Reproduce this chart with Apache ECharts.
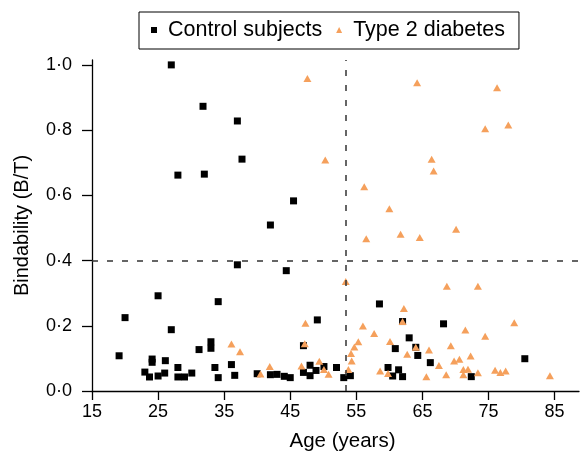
<!DOCTYPE html>
<html><head><meta charset="utf-8">
<script src="https://cdn.jsdelivr.net/npm/echarts@6/dist/echarts.min.js"></script>
<style>html,body{margin:0;padding:0;background:#fff}#c{width:580px;height:458px}</style>
</head><body><div id="c"></div>
<script>
const seriesNames = ['Control subjects', 'Type 2 diabetes'];
const controlAge = [27.0,31.8,37.0,37.7,28.0,32.0,42.0,45.5,37.0,44.4,34.1,25.0,20.0,27.0,19.1,49.1,58.5,62.0,63.0,60.9,47.0,64.0,64.3,48.0,50.1,52.0,48.9,47.0,48.0,40.0,42.0,43.0,44.1,45.0,53.1,54.1,59.8,61.4,60.5,62.0,68.2,66.2,80.5,72.4,24.1,24.1,26.1,23.0,23.7,25.0,26.0,28.0,28.0,29.0,30.1,31.2,33.0,33.0,33.6,36.1,34.1,36.6];
const controlBind = [1.000,0.873,0.828,0.711,0.662,0.665,0.509,0.583,0.387,0.369,0.274,0.292,0.225,0.188,0.108,0.218,0.267,0.213,0.163,0.130,0.139,0.134,0.109,0.079,0.075,0.072,0.063,0.057,0.047,0.053,0.050,0.051,0.045,0.041,0.041,0.047,0.072,0.065,0.046,0.044,0.206,0.087,0.099,0.044,0.098,0.088,0.093,0.058,0.043,0.046,0.055,0.072,0.043,0.043,0.055,0.127,0.151,0.131,0.072,0.081,0.041,0.048];
const diabetesAge = [47.6,64.2,50.3,56.2,60.0,76.3,74.5,78.0,66.4,66.7,56.5,61.7,64.6,70.1,53.4,62.2,62.0,47.3,56.0,57.7,60.1,55.3,54.7,47.2,54.2,62.7,64.0,54.3,49.4,41.9,46.7,50.1,53.8,50.8,40.5,58.6,59.8,68.7,73.4,78.9,71.5,74.5,66.0,69.3,72.3,69.8,70.6,67.5,71.2,71.9,73.4,76.0,76.8,77.6,68.6,65.6,71.2,84.3,36.1,37.4];
const diabetesBind = [0.958,0.945,0.708,0.626,0.559,0.930,0.804,0.816,0.711,0.675,0.467,0.481,0.471,0.496,0.336,0.253,0.213,0.208,0.199,0.176,0.152,0.151,0.135,0.145,0.115,0.113,0.134,0.092,0.091,0.075,0.077,0.066,0.066,0.051,0.052,0.061,0.054,0.321,0.321,0.209,0.187,0.168,0.126,0.139,0.107,0.092,0.097,0.078,0.066,0.067,0.056,0.064,0.057,0.061,0.050,0.044,0.050,0.047,0.144,0.120];
const xTicks = [15, 25, 35, 45, 55, 65, 75, 85];
const yTicks = [0, 0.2, 0.4, 0.6, 0.8, 1.0];
const cutoffAge = [53.4];
const cutoffBind = [0.4];

const FONT = '"Liberation Sans", Arial, Helvetica, sans-serif';
const chart = echarts.init(document.getElementById('c'), null, {renderer: 'canvas'});
const pair = (xs, ys) => xs.map((x, i) => [x, ys[i]]);
const dashStyle = {type: [6, 9], color: '#333', width: 1.5};

chart.setOption({
  animation: false,
  backgroundColor: '#fff',
  textStyle: {fontFamily: FONT},
  grid: {left: 92, right: 1, top: 60, bottom: 67, containLabel: false},
  legend: {
    left: 139, top: 12,
    borderColor: '#000', borderWidth: 1,
    padding: [7, 14, 8, 12],
    itemWidth: 6, itemHeight: 6, itemGap: 14,
    textStyle: {fontFamily: FONT, fontSize: 21.5, color: '#000', padding: [0, 0, 0, 6]},
    data: seriesNames
  },
  xAxis: {
    type: 'value', min: 15, max: 88.7, interval: 10,
    name: 'Age (years)', nameLocation: 'middle', nameGap: 40,
    nameTextStyle: {fontFamily: FONT, fontSize: 20.5, color: '#000', padding: [0, 0, 0, 14]},
    axisLine: {onZero: false, lineStyle: {color: '#000', width: 1.3}},
    axisTick: {length: 9, lineStyle: {color: '#000', width: 1.3}, customValues: xTicks},
    axisLabel: {fontFamily: FONT, fontSize: 18, color: '#000', margin: 12, customValues: xTicks},
    splitLine: {show: false}
  },
  yAxis: {
    type: 'value', min: 0, max: 1.015, interval: 0.2,
    name: 'Bindability (B/T)', nameLocation: 'middle', nameGap: 60,
    nameTextStyle: {fontFamily: FONT, fontSize: 20, color: '#000'},
    axisLine: {show: true, onZero: false, lineStyle: {color: '#000', width: 1.3}},
    axisTick: {show: true, length: 10, lineStyle: {color: '#000', width: 1.3}, customValues: yTicks},
    axisLabel: {fontFamily: FONT, fontSize: 18, color: '#000', margin: 20, customValues: yTicks,
      formatter: v => v.toFixed(1).replace('.', '\u00b7')},
    splitLine: {show: false}
  },
  series: [
    {
      name: seriesNames[0], type: 'scatter', symbol: 'rect', symbolSize: 7,
      itemStyle: {color: '#000', opacity: 1},
      data: pair(controlAge, controlBind),
      markLine: {
        silent: true, symbol: 'none', animation: false,
        label: {show: false},
        lineStyle: dashStyle,
        emphasis: {disabled: true},
        data: [{xAxis: cutoffAge[0]}, {yAxis: cutoffBind[0]}]
      }
    },
    {
      name: seriesNames[1], type: 'scatter', symbol: 'triangle', symbolSize: [8, 7],
      itemStyle: {color: '#f5a05c', opacity: 1},
      data: pair(diabetesAge, diabetesBind)
    }
  ]
});
</script>
</body></html>
